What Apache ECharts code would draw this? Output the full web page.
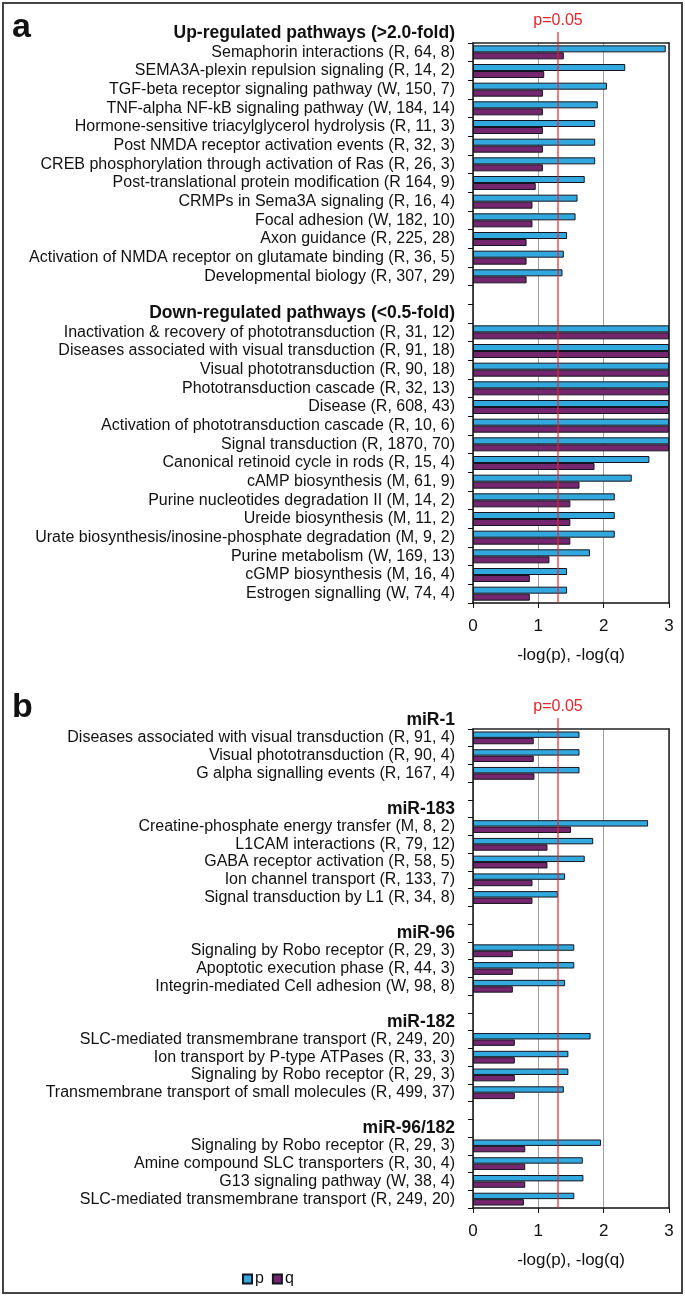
<!DOCTYPE html>
<html><head><meta charset="utf-8">
<script src="https://cdn.jsdelivr.net/npm/echarts@6/dist/echarts.min.js"></script>
<style>html,body{margin:0;padding:0;background:#fff}#c{width:685px;height:1297px}</style>
</head><body><div id="c"></div><script>
// ---------- DATA ----------
const upHeader = 'Up-regulated pathways (>2.0-fold)';
const upNames = [
 'Semaphorin interactions (R, 64, 8)',
 'SEMA3A-plexin repulsion signaling (R, 14, 2)',
 'TGF-beta receptor signaling pathway (W, 150, 7)',
 'TNF-alpha NF-kB signaling pathway (W, 184, 14)',
 'Hormone-sensitive triacylglycerol hydrolysis (R, 11, 3)',
 'Post NMDA receptor activation events (R, 32, 3)',
 'CREB phosphorylation through activation of Ras (R, 26, 3)',
 'Post-translational protein modification (R 164, 9)',
 'CRMPs in Sema3A signaling (R, 16, 4)',
 'Focal adhesion (W, 182, 10)',
 'Axon guidance (R, 225, 28)',
 'Activation of NMDA receptor on glutamate binding (R, 36, 5)',
 'Developmental biology (R, 307, 29)'
];
const upP = [2.95, 2.33, 2.05, 1.91, 1.87, 1.87, 1.87, 1.71, 1.60, 1.57, 1.44, 1.39, 1.37];
const upQ = [1.39, 1.09, 1.07, 1.07, 1.07, 1.07, 1.07, 0.96, 0.91, 0.91, 0.82, 0.82, 0.82];

const downHeader = 'Down-regulated pathways (<0.5-fold)';
const downNames = [
 'Inactivation & recovery of phototransduction (R, 31, 12)',
 'Diseases associated with visual transduction (R, 91, 18)',
 'Visual phototransduction (R, 90, 18)',
 'Phototransduction cascade (R, 32, 13)',
 'Disease (R, 608, 43)',
 'Activation of phototransduction cascade (R, 10, 6)',
 'Signal transduction (R, 1870, 70)',
 'Canonical retinoid cycle in rods (R, 15, 4)',
 'cAMP biosynthesis (M, 61, 9)',
 'Purine nucleotides degradation II (M, 14, 2)',
 'Ureide biosynthesis (M, 11, 2)',
 'Urate biosynthesis/inosine-phosphate degradation (M, 9, 2)',
 'Purine metabolism (W, 169, 13)',
 'cGMP biosynthesis (M, 16, 4)',
 'Estrogen signalling (W, 74, 4)'
];
const downP = [3, 3, 3, 3, 3, 3, 3, 2.70, 2.43, 2.17, 2.17, 2.17, 1.79, 1.44, 1.44];
const downQ = [3, 3, 3, 3, 3, 3, 3, 1.86, 1.63, 1.49, 1.49, 1.49, 1.17, 0.87, 0.87];

const mirHeaders = ['miR-1', 'miR-183', 'miR-96', 'miR-182', 'miR-96/182'];
const mir1Names = ['Diseases associated with visual transduction (R, 91, 4)', 'Visual phototransduction (R, 90, 4)', 'G alpha signalling events (R, 167, 4)'];
const mir1P = [1.63, 1.63, 1.63];
const mir1Q = [0.93, 0.93, 0.94];
const mir183Names = ['Creatine-phosphate energy transfer (M, 8, 2)', 'L1CAM interactions (R, 79, 12)', 'GABA receptor activation (R, 58, 5)', 'Ion channel transport (R, 133, 7)', 'Signal transduction by L1 (R, 34, 8)'];
const mir183P = [2.68, 1.84, 1.71, 1.41, 1.30];
const mir183Q = [1.50, 1.14, 1.14, 0.91, 0.91];
const mir96Names = ['Signaling by Robo receptor (R, 29, 3)', 'Apoptotic execution phase (R, 44, 3)', 'Integrin-mediated Cell adhesion (W, 98, 8)'];
const mir96P = [1.55, 1.55, 1.41];
const mir96Q = [0.61, 0.61, 0.61];
const mir182Names = ['SLC-mediated transmembrane transport (R, 249, 20)', 'Ion transport by P-type ATPases (R, 33, 3)', 'Signaling by Robo receptor (R, 29, 3)', 'Transmembrane transport of small molecules (R, 499, 37)'];
const mir182P = [1.80, 1.46, 1.46, 1.39];
const mir182Q = [0.64, 0.64, 0.64, 0.64];
const mir96182Names = ['Signaling by Robo receptor (R, 29, 3)', 'Amine compound SLC transporters (R, 30, 4)', 'G13 signaling pathway (W, 38, 4)', 'SLC-mediated transmembrane transport (R, 249, 20)'];
const mir96182P = [1.96, 1.68, 1.69, 1.55];
const mir96182Q = [0.80, 0.80, 0.80, 0.78];

const xTickLabels = ['0', '1', '2', '3'];
const xName = '-log(p), -log(q)';
const pThreshold = 0.05;
const pThresholdLabel = 'p=0.05';
const panelLetters = ['a', 'b'];

// ---------- BUILD ----------
const catsA = [...upNames, ' ', downHeader, ...downNames];
const pA = [...upP, null, null, ...downP];
const qA = [...upQ, null, null, ...downQ];

const groupsB = [
  [mir1Names, mir1P, mir1Q], [mir183Names, mir183P, mir183Q], [mir96Names, mir96P, mir96Q],
  [mir182Names, mir182P, mir182Q], [mir96182Names, mir96182P, mir96182Q]
];
const catsB = [], pB = [], qB = [];
groupsB.forEach((g, i) => {
  if (i > 0) {
    catsB.push(' '.repeat(i)); pB.push(null); qB.push(null);
    catsB.push(mirHeaders[i]); pB.push(null); qB.push(null);
  }
  g[0].forEach((n, j) => { catsB.push(n); pB.push(g[1][j]); qB.push(g[2][j]); });
});

const FONT = "'Liberation Sans', Arial, sans-serif";
const P_COLOR = '#32a9de', Q_COLOR = '#74266f', EDGE = '#15151f';
const GA = {left: 473, top: 43, width: 196, height: 560};
const GB = {left: 473, top: 729, width: 196, height: 479};
const headerSet = [upHeader, downHeader, ...mirHeaders];

function catAxis(gi, cats) {
  return {type: 'category', gridIndex: gi, data: cats, inverse: true,
    axisLine: {show: true, lineStyle: {color: '#111', width: 1.5}},
    axisTick: {show: true, length: 5, lineStyle: {color: '#111'}},
    axisLabel: {margin: 18, interval: 0, fontFamily: FONT, fontSize: 16, color: '#111',
      formatter: v => headerSet.includes(v) ? '{h|' + v + '}' : v,
      rich: {h: {fontFamily: FONT, fontWeight: 'bold', fontSize: 17.5, color: '#111'}}},
    splitLine: {show: false}};
}
function valAxis(gi, nameGap) {
  return {type: 'value', gridIndex: gi, min: 0, max: 3, interval: 1,
    name: xName, nameLocation: 'middle', nameGap: nameGap,
    nameTextStyle: {fontFamily: FONT, fontSize: 17, color: '#111'},
    axisLine: {show: true, onZero: false, lineStyle: {color: '#111', width: 1.5}},
    axisTick: {show: true, length: 5, lineStyle: {color: '#111'}},
    axisLabel: {margin: 15, fontFamily: FONT, fontSize: 17, color: '#111', formatter: v => xTickLabels[Math.round(v)]},
    splitLine: {show: true, lineStyle: {color: '#a0a0a0', width: 1}}};
}
function frameX(gi) {
  return {type: 'value', gridIndex: gi, position: 'top', min: 0, max: 3,
    axisLine: {show: true, onZero: false, lineStyle: {color: '#222', width: 1.5}},
    axisTick: {show: false}, axisLabel: {show: false}, splitLine: {show: false}};
}
function frameY(gi) {
  return {type: 'value', gridIndex: gi, position: 'right', min: 0, max: 1,
    axisLine: {show: true, onZero: false, lineStyle: {color: '#222', width: 1.5}},
    axisTick: {show: false}, axisLabel: {show: false}, splitLine: {show: false}};
}
function bar(name, xi, yi, data, color, w) {
  return {name, type: 'bar', xAxisIndex: xi, yAxisIndex: yi, data, barWidth: w, barGap: '0%',
    itemStyle: {color, borderColor: EDGE, borderWidth: 1}, animation: false};
}

const chart = echarts.init(document.getElementById('c'), null, {renderer: 'canvas'});
chart.setOption({
  animation: false,
  textStyle: {fontFamily: FONT},
  grid: [GA, GB],
  xAxis: [valAxis(0, 44), valAxis(1, 44), frameX(0), frameX(1)],
  yAxis: [catAxis(0, catsA), catAxis(1, catsB), frameY(0), frameY(1)],
  legend: {data: ['p', 'q'], left: 237, top: 1266, icon: 'rect', itemWidth: 9, itemHeight: 9, itemGap: 8,
    textStyle: {fontFamily: FONT, fontSize: 16, color: '#111', padding: [0, 0, 0, -2]}},
  series: [
    bar('p', 0, 0, pA, P_COLOR, 7), bar('q', 0, 0, qA, Q_COLOR, 7),
    bar('p', 1, 1, pB, P_COLOR, 6.4), bar('q', 1, 1, qB, Q_COLOR, 6.4)
  ]
});

const thr = -Math.log10(pThreshold);
const xa = chart.convertToPixel({xAxisIndex: 0}, thr);
const xb = chart.convertToPixel({xAxisIndex: 1}, thr);
const bandA = GA.height / catsA.length, bandB = GB.height / catsB.length;
const RED = '#e3262b';
chart.setOption({graphic: [
  {type: 'rect', z: 100, shape: {x: 3, y: 3, width: 679, height: 1290}, style: {fill: null, stroke: '#444', lineWidth: 2}},
  {type: 'text', z: 100, style: {text: panelLetters[0], x: 12, y: 28, align: 'left', verticalAlign: 'middle', fontFamily: FONT, fontWeight: 'bold', fontSize: 34, fill: '#111'}},
  {type: 'text', z: 100, style: {text: panelLetters[1], x: 12, y: 708, align: 'left', verticalAlign: 'middle', fontFamily: FONT, fontWeight: 'bold', fontSize: 34, fill: '#111'}},
  {type: 'text', z: 100, style: {text: upHeader, x: 455, y: GA.top - bandA / 2, align: 'right', verticalAlign: 'middle', fontFamily: FONT, fontWeight: 'bold', fontSize: 17.5, fill: '#111'}},
  {type: 'text', z: 100, style: {text: mirHeaders[0], x: 455, y: GB.top - bandB / 2, align: 'right', verticalAlign: 'middle', fontFamily: FONT, fontWeight: 'bold', fontSize: 17.5, fill: '#111'}},
  {type: 'line', z: 100, shape: {x1: xa, y1: GA.top - 11, x2: xa, y2: GA.top + GA.height}, style: {stroke: RED, lineWidth: 1.2}},
  {type: 'line', z: 100, shape: {x1: xb, y1: GB.top - 11, x2: xb, y2: GB.top + GB.height}, style: {stroke: RED, lineWidth: 1.2}},
  {type: 'text', z: 100, style: {text: pThresholdLabel, x: xa, y: 21, align: 'center', verticalAlign: 'middle', fontFamily: FONT, fontSize: 16, fill: RED}},
  {type: 'text', z: 100, style: {text: pThresholdLabel, x: xb, y: 707, align: 'center', verticalAlign: 'middle', fontFamily: FONT, fontSize: 16, fill: RED}}
]});
</script></body></html>
